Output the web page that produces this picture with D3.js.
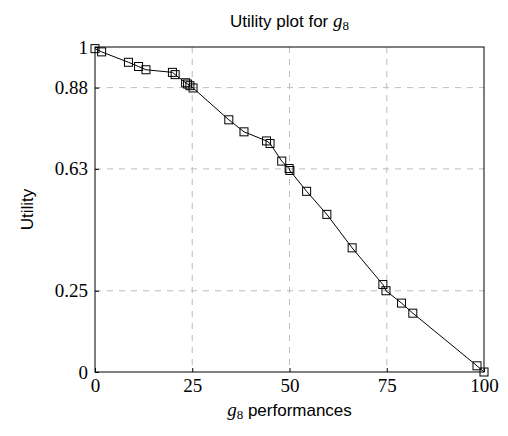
<!DOCTYPE html>
<html>
<head>
<meta charset="utf-8">
<script src="https://cdn.jsdelivr.net/npm/d3@7"></script>
<style>
  body { margin: 0; background: #fff; }
  svg { display: block; }
</style>
</head>
<body>
<div id="container"></div>
<script>
// performances of g8 and the matching utility
const performances = [0, 1.7, 8.6, 11.2, 13.1, 19.9, 20.6, 23.3, 23.8, 24.4, 25.2,
  34.4, 38.3, 44.1, 45.0, 48.0, 49.9, 50.1, 54.4, 59.6, 66.1, 74.0, 74.8, 78.8, 81.7, 98.2, 100];
const utilities = [0.995, 0.985, 0.953, 0.940, 0.930, 0.922, 0.915, 0.890, 0.886, 0.881, 0.874,
  0.776, 0.739, 0.711, 0.703, 0.649, 0.626, 0.620, 0.556, 0.485, 0.382, 0.269, 0.250, 0.212, 0.181, 0.019, 0];
const xTicks = [0, 25, 50, 75, 100];
const yTicks = [0, 0.25, 0.625, 0.875, 1];
const yTickLabels = ["0", "0.25", "0.63", "0.88", "1"];

const w = 508;
const h = 436;
const margin = { top: 47, right: 24, bottom: 64, left: 95 };
const width = w - margin.left - margin.right;
const height = h - margin.top - margin.bottom;

const svg = d3.select('#container')
  .append('svg')
  .attr('width', w)
  .attr('height', h);

const g = svg.append('g')
  .attr('transform', `translate(${margin.left}, ${margin.top})`);

const x = d3.scaleLinear().domain([0, 100]).range([0, width]);
const y = d3.scaleLinear().domain([0, 1]).range([height, 0]);

// grid
g.append('g')
  .selectAll('line')
  .data(xTicks.slice(1, -1))
  .join('line')
  .attr('x1', d => x(d)).attr('x2', d => x(d))
  .attr('y1', 0).attr('y2', height)
  .attr('stroke', '#bdbdbd')
  .attr('stroke-dasharray', '6,6');

g.append('g')
  .selectAll('line')
  .data(yTicks.slice(1, -1))
  .join('line')
  .attr('x1', 0).attr('x2', width)
  .attr('y1', d => y(d)).attr('y2', d => y(d))
  .attr('stroke', '#bdbdbd')
  .attr('stroke-dasharray', '6,6');

// axes
const xAxis = g.append('g')
  .attr('transform', `translate(0, ${height})`)
  .call(d3.axisBottom(x).tickValues(xTicks).tickSizeInner(-4).tickSizeOuter(0).tickPadding(7));

const yAxis = g.append('g')
  .call(d3.axisLeft(y).tickValues(yTicks).tickFormat((d, i) => yTickLabels[i])
    .tickSizeInner(-4).tickSizeOuter(0).tickPadding(7));

[xAxis, yAxis].forEach(a => {
  a.select('.domain').remove();
  a.selectAll('.tick line').attr('stroke', '#000');
  a.selectAll('text')
    .attr('fill', '#000')
    .style('font-family', '"Liberation Serif", serif')
    .style('font-size', '19px');
});

// frame
g.append('rect')
  .attr('width', width)
  .attr('height', height)
  .attr('fill', 'none')
  .attr('stroke', '#000')
  .attr('stroke-width', 1);

// line + markers
const ds = performances.map((p, i) => ({ p, u: utilities[i] }));

g.append('path')
  .datum(ds)
  .attr('fill', 'none')
  .attr('stroke', '#000')
  .attr('stroke-width', 1)
  .attr('d', d3.line().x(d => x(d.p)).y(d => y(d.u)));

const s = 8;
g.selectAll('.mark')
  .data(ds)
  .join('rect')
  .attr('class', 'mark')
  .attr('x', d => x(d.p) - s / 2)
  .attr('y', d => y(d.u) - s / 2)
  .attr('width', s)
  .attr('height', s)
  .attr('fill', 'none')
  .attr('stroke', '#000')
  .attr('stroke-width', 1);

// title
const title = svg.append('text')
  .attr('x', margin.left + width / 2)
  .attr('y', 27)
  .attr('text-anchor', 'middle')
  .style('font-family', '"Liberation Sans", Arial, sans-serif')
  .style('font-size', '17px');
title.append('tspan').text('Utility plot for ');
title.append('tspan').style('font-family', '"Liberation Serif", serif').style('font-style', 'italic').style('font-size', '19px').text('g');
title.append('tspan').style('font-family', '"Liberation Serif", serif').style('font-size', '13px').attr('dy', 3).text('8');

// x label
const xl = svg.append('text')
  .attr('x', margin.left + width / 2)
  .attr('y', 416)
  .attr('text-anchor', 'middle')
  .style('font-family', '"Liberation Sans", Arial, sans-serif')
  .style('font-size', '17px');
xl.append('tspan').style('font-family', '"Liberation Serif", serif').style('font-style', 'italic').style('font-size', '19px').text('g');
xl.append('tspan').style('font-family', '"Liberation Serif", serif').style('font-size', '13px').attr('dy', 3).text('8');
xl.append('tspan').attr('dy', -3).text(' performances');

// y label
svg.append('text')
  .attr('transform', `translate(33, ${margin.top + height / 2}) rotate(-90)`)
  .attr('text-anchor', 'middle')
  .style('font-family', '"Liberation Sans", Arial, sans-serif')
  .style('font-size', '17px')
  .text('Utility');
</script>
</body>
</html>
